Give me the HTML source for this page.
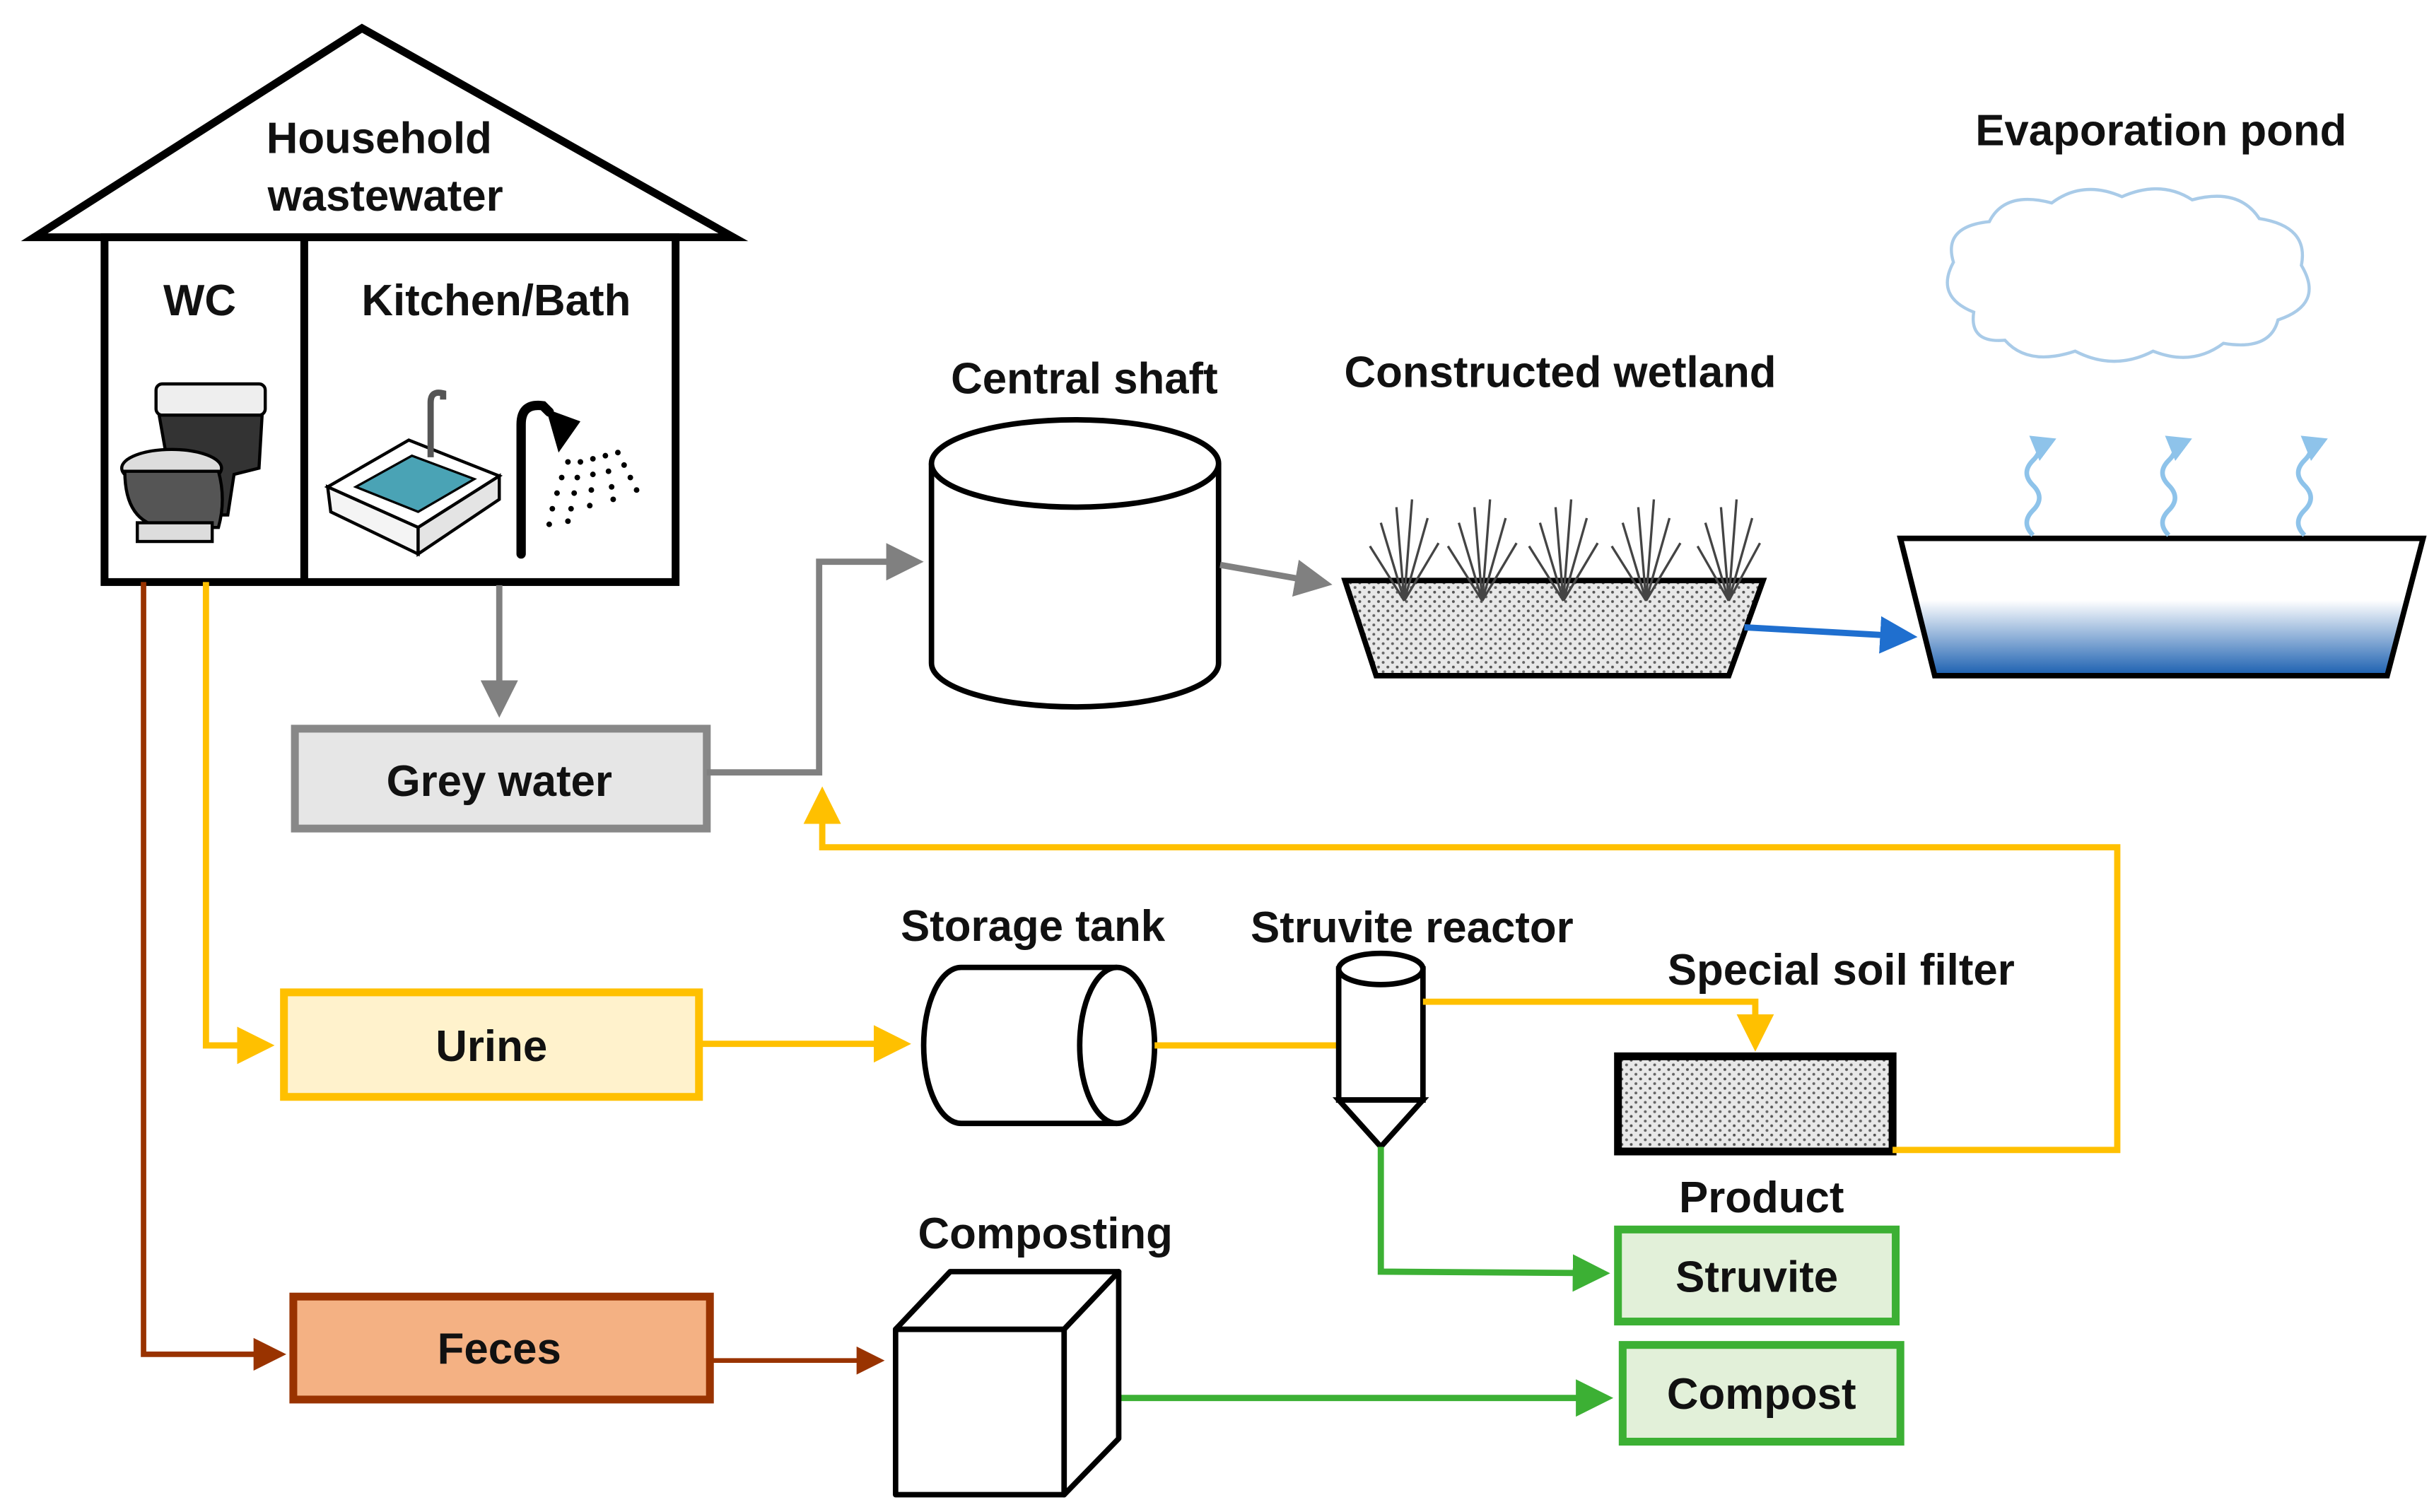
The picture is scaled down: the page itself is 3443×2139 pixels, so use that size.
<!DOCTYPE html>
<html><head><meta charset="utf-8"><style>
html,body{margin:0;padding:0;background:#fff;}
svg{display:block;}
text{font-family:"Liberation Sans",sans-serif;font-weight:bold;fill:#111;text-anchor:middle;}
</style></head><body>
<svg width="3443" height="2139" viewBox="0 0 1560 969" xmlns="http://www.w3.org/2000/svg">
<defs>
<marker id="ag" markerWidth="6" markerHeight="6" refX="5" refY="3" orient="auto" markerUnits="strokeWidth"><path d="M0,0 L6,3 L0,6 z" fill="#808080"/></marker>
<marker id="ay" markerWidth="6" markerHeight="6" refX="5" refY="3" orient="auto" markerUnits="strokeWidth"><path d="M0,0 L6,3 L0,6 z" fill="#ffc000"/></marker>
<marker id="agr" markerWidth="6" markerHeight="6" refX="5" refY="3" orient="auto" markerUnits="strokeWidth"><path d="M0,0 L6,3 L0,6 z" fill="#3cb034"/></marker>
<marker id="ab" markerWidth="6" markerHeight="6" refX="5" refY="3" orient="auto" markerUnits="strokeWidth"><path d="M0,0 L6,3 L0,6 z" fill="#993300"/></marker>
<marker id="abl" markerWidth="6" markerHeight="6" refX="5" refY="3" orient="auto" markerUnits="strokeWidth"><path d="M0,0 L6,3 L0,6 z" fill="#1f6fcf"/></marker>
<marker id="alb" markerWidth="5" markerHeight="6" refX="4" refY="3" orient="auto" markerUnits="strokeWidth"><path d="M0,0 L5,3 L0,6 z" fill="#8ec3ea"/></marker>
<pattern id="dots" width="6" height="6" patternUnits="userSpaceOnUse"><rect width="6" height="6" fill="#e8e8e8"/><circle cx="1.5" cy="1.5" r="0.9" fill="#555"/><circle cx="4.5" cy="4.5" r="0.9" fill="#666"/></pattern>
<linearGradient id="pond" x1="0" y1="0" x2="0" y2="1"><stop offset="0" stop-color="#fff"/><stop offset="0.45" stop-color="#fff"/><stop offset="1" stop-color="#1a5fb0"/></linearGradient>
</defs>

<!-- House -->
<polygon points="22,152 232,18 470,152" fill="#fff" stroke="#000" stroke-width="5" stroke-linejoin="miter"/>
<rect x="67" y="152" width="366" height="221" fill="#fff" stroke="#000" stroke-width="5"/>
<line x1="195" y1="152" x2="195" y2="373" stroke="#000" stroke-width="5"/>
<text x="243" y="98" font-size="28">Household</text>
<text x="247" y="135" font-size="28">wastewater</text>
<text x="128" y="202" font-size="28">WC</text>
<text x="318" y="202" font-size="28">Kitchen/Bath</text>
<!-- toilet -->
<g stroke="#000" stroke-width="2" fill="#eee">
<rect x="100" y="246" width="70" height="20" rx="4"/>
<path d="M102,266 L168,266 L166,300 L150,304 L146,330 L112,330 L108,300 z" fill="#333"/>
<ellipse cx="110" cy="300" rx="32" ry="12" fill="#ddd"/>
<path d="M80,302 Q80,335 105,338 L140,338 Q145,320 140,302 z" fill="#555"/>
<rect x="88" y="335" width="48" height="12" fill="#ddd"/>
</g>
<!-- sink -->
<polygon points="210,312 262,282 320,305 268,338" fill="#fff" stroke="#000" stroke-width="2"/>
<polygon points="228,312 264,292 304,307 268,328" fill="#4aa3b5" stroke="#000" stroke-width="1.5"/>
<polygon points="210,312 268,338 268,355 212,328" fill="#f4f4f4" stroke="#000" stroke-width="2"/>
<polygon points="268,338 320,305 320,320 268,355" fill="#e4e4e4" stroke="#000" stroke-width="2"/>
<path d="M276,293 L276,258 Q276,250 284,252 L284,256" fill="none" stroke="#555" stroke-width="4"/>
<!-- shower -->
<path d="M334,355 L334,272 Q334,258 348,260 L352,264" fill="none" stroke="#000" stroke-width="6" stroke-linecap="round"/>
<polygon points="350,262 372,270 358,290" fill="#000"/>
<g fill="#000">
<circle cx="364" cy="296" r="1.8"/><circle cx="360" cy="306" r="1.8"/><circle cx="357" cy="316" r="1.8"/><circle cx="354" cy="326" r="1.8"/><circle cx="352" cy="336" r="1.8"/>
<circle cx="372" cy="296" r="1.8"/><circle cx="370" cy="306" r="1.8"/><circle cx="368" cy="316" r="1.8"/><circle cx="366" cy="326" r="1.8"/><circle cx="364" cy="334" r="1.8"/>
<circle cx="380" cy="294" r="1.8"/><circle cx="380" cy="304" r="1.8"/><circle cx="379" cy="314" r="1.8"/><circle cx="378" cy="324" r="1.8"/>
<circle cx="388" cy="292" r="1.8"/><circle cx="390" cy="302" r="1.8"/><circle cx="392" cy="312" r="1.8"/><circle cx="393" cy="320" r="1.8"/>
<circle cx="396" cy="290" r="1.8"/><circle cx="400" cy="298" r="1.8"/><circle cx="404" cy="306" r="1.8"/><circle cx="408" cy="314" r="1.8"/>
</g>

<!-- grey water -->
<line x1="320" y1="375" x2="320" y2="456" stroke="#808080" stroke-width="4" marker-end="url(#ag)"/>
<rect x="189" y="467" width="264" height="64" fill="#e6e6e6" stroke="#888" stroke-width="5"/>
<text x="320" y="510" font-size="28">Grey water</text>
<polyline points="453,495 525,495 525,360 588,360" fill="none" stroke="#808080" stroke-width="4" marker-end="url(#ag)"/>

<!-- central shaft -->
<path d="M597,297 L597,425 A92,28 0 0 0 781,425 L781,297" fill="#fff" stroke="#000" stroke-width="3.5"/>
<ellipse cx="689" cy="297" rx="92" ry="28" fill="#fff" stroke="#000" stroke-width="3.5"/>
<text x="695" y="252" font-size="28">Central shaft</text>
<line x1="782" y1="362" x2="850" y2="374" stroke="#808080" stroke-width="4" marker-end="url(#ag)"/>

<!-- wetland -->
<polygon points="862,372 1130,372 1108,433 882,433" fill="url(#dots)" stroke="#000" stroke-width="3.5"/>
<g stroke="#444" stroke-width="1.5" fill="none">
<path d="M900,385 L895,325 M900,385 L905,320 M900,385 L885,335 M900,385 L915,332 M900,385 L878,350 M900,385 L922,348"/>
<path d="M950,385 L945,325 M950,385 L955,320 M950,385 L935,335 M950,385 L965,332 M950,385 L928,350 M950,385 L972,348"/>
<path d="M1002,385 L997,325 M1002,385 L1007,320 M1002,385 L987,335 M1002,385 L1017,332 M1002,385 L980,350 M1002,385 L1024,348"/>
<path d="M1055,385 L1050,325 M1055,385 L1060,320 M1055,385 L1040,335 M1055,385 L1070,332 M1055,385 L1033,350 M1055,385 L1077,348"/>
<path d="M1108,385 L1103,325 M1108,385 L1113,320 M1108,385 L1093,335 M1108,385 L1123,332 M1108,385 L1088,350 M1108,385 L1128,348"/>
</g>
<text x="1000" y="248" font-size="28">Constructed wetland</text>
<line x1="1118" y1="402" x2="1225" y2="408" stroke="#1f6fcf" stroke-width="4" marker-end="url(#abl)"/>

<!-- pond -->
<polygon points="1218,345 1553,345 1530,433 1240,433" fill="url(#pond)" stroke="#000" stroke-width="3.5"/>
<text x="1385" y="93" font-size="28">Evaporation pond</text>
<path d="M1265,200 Q1240,190 1252,168 Q1245,145 1275,142 Q1285,122 1315,130 Q1335,115 1360,126 Q1385,115 1405,128 Q1435,120 1448,140 Q1480,145 1475,170 Q1490,195 1460,205 Q1455,225 1425,220 Q1405,235 1380,225 Q1355,238 1330,225 Q1300,235 1285,218 Q1262,220 1265,200 z" fill="#fff" stroke="#a9cbe8" stroke-width="2"/>
<g fill="none" stroke="#8ec3ea" stroke-width="3">
<path d="M1303,343 q-8,-8 0,-16 q8,-8 0,-16 q-8,-8 0,-16 q8,-8 0,-14" marker-end="url(#alb)"/>
<path d="M1390,343 q-8,-8 0,-16 q8,-8 0,-16 q-8,-8 0,-16 q8,-8 0,-14" marker-end="url(#alb)"/>
<path d="M1477,343 q-8,-8 0,-16 q8,-8 0,-16 q-8,-8 0,-16 q8,-8 0,-14" marker-end="url(#alb)"/>
</g>

<!-- urine -->
<polyline points="132,373 132,670 172,670" fill="none" stroke="#ffc000" stroke-width="4" marker-end="url(#ay)"/>
<rect x="182" y="636" width="266" height="67" fill="#fff2cc" stroke="#ffc000" stroke-width="5"/>
<text x="315" y="680" font-size="28">Urine</text>
<line x1="448" y1="669" x2="580" y2="669" stroke="#ffc000" stroke-width="4" marker-end="url(#ay)"/>
<!-- storage tank -->
<path d="M716,620 L616,620 A24,50 0 0 0 616,720 L716,720" fill="#fff" stroke="#000" stroke-width="3.5"/>
<ellipse cx="716" cy="670" rx="24" ry="50" fill="#fff" stroke="#000" stroke-width="3.5"/>
<text x="662" y="603" font-size="28">Storage tank</text>
<line x1="740" y1="670" x2="858" y2="670" stroke="#ffc000" stroke-width="4"/>
<!-- struvite reactor -->
<rect x="858" y="621" width="54" height="84" fill="#fff" stroke="#000" stroke-width="3.5"/>
<ellipse cx="885" cy="621" rx="27" ry="10" fill="#fff" stroke="#000" stroke-width="3.5"/>
<polygon points="858,705 912,705 885,735" fill="#fff" stroke="#000" stroke-width="3.5"/>
<text x="905" y="604" font-size="28">Struvite reactor</text>
<polyline points="912,642 1125,642 1125,670" fill="none" stroke="#ffc000" stroke-width="4" marker-end="url(#ay)"/>
<!-- soil filter -->
<rect x="1037" y="677" width="176" height="61" fill="url(#dots)" stroke="#000" stroke-width="5"/>
<text x="1180" y="631" font-size="28">Special soil filter</text>
<polyline points="1213,737 1357,737 1357,543 527,543 527,508" fill="none" stroke="#ffc000" stroke-width="4" marker-end="url(#ay)"/>

<!-- products -->
<polyline points="885,735 885,815 1028,816" fill="none" stroke="#3cb034" stroke-width="4" marker-end="url(#agr)"/>
<text x="1129" y="777" font-size="28">Product</text>
<rect x="1037" y="788" width="178" height="59" fill="#e2f0d9" stroke="#3cb034" stroke-width="5"/>
<text x="1126" y="828" font-size="28">Struvite</text>
<rect x="1040" y="862" width="178" height="62" fill="#e2f0d9" stroke="#3cb034" stroke-width="5"/>
<text x="1129" y="903" font-size="28">Compost</text>
<line x1="718" y1="896" x2="1030" y2="896" stroke="#3cb034" stroke-width="4" marker-end="url(#agr)"/>

<!-- feces -->
<polyline points="92,373 92,868 180,868" fill="none" stroke="#993300" stroke-width="3.5" marker-end="url(#ab)"/>
<rect x="188" y="831" width="267" height="66" fill="#f4b183" stroke="#993300" stroke-width="5"/>
<text x="320" y="874" font-size="28">Feces</text>
<line x1="455" y1="872" x2="564" y2="872" stroke="#993300" stroke-width="3" marker-end="url(#ab)"/>
<!-- composting cube -->
<g fill="#fff" stroke="#000" stroke-width="3.5" stroke-linejoin="round">
<polygon points="574,852 609,815 717,815 682,852"/>
<polygon points="682,852 717,815 717,922 682,958"/>
<rect x="574" y="852" width="108" height="106"/>
</g>
<text x="670" y="800" font-size="28">Composting</text>
</svg>
</body></html>
